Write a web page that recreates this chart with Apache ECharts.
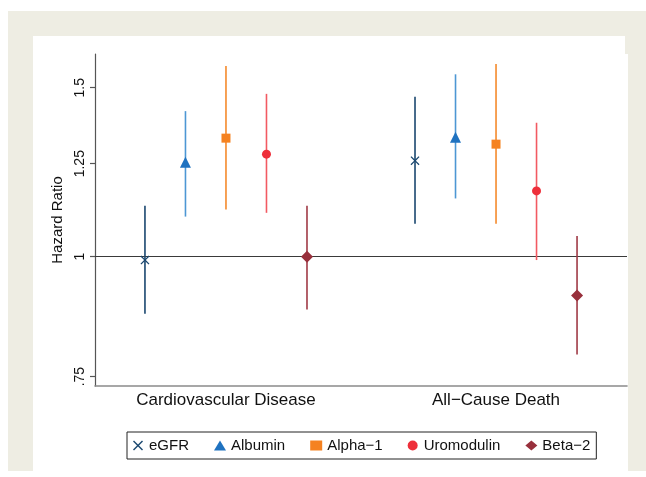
<!DOCTYPE html>
<html>
<head>
<meta charset="utf-8">
<style>html,body{margin:0;padding:0;background:#fff;}#c{width:646px;height:477px;}</style>
<script src="https://cdn.jsdelivr.net/npm/echarts@6/dist/echarts.min.js"></script>
</head>
<body>
<div id="c"></div>
<script>
// ---- data ----
var categories = ['Cardiovascular Disease', 'All\u2212Cause Death'];
var seriesNames = ['eGFR', 'Albumin', 'Alpha\u22121', 'Uromodulin', 'Beta\u22122'];
// hazard ratios per series: [CVD, All-cause death]
var hrEGFR = [0.992, 1.259];
var hrAlbumin = [1.254, 1.332];
var hrAlpha1 = [1.329, 1.310];
var hrUromodulin = [1.279, 1.171];
var hrBeta2 = [1.000, 0.911];
// lower CI
var loEGFR = [0.872, 1.082];
var loAlbumin = [1.101, 1.150];
var loAlpha1 = [1.120, 1.082];
var loUromodulin = [1.111, 0.992];
var loBeta2 = [0.881, 0.791];
// upper CI
var hiEGFR = [1.130, 1.468];
var hiAlbumin = [1.418, 1.549];
var hiAlpha1 = [1.580, 1.588];
var hiUromodulin = [1.478, 1.379];
var hiBeta2 = [1.130, 1.051];
// y tick labels
var yTickValues = [0.75, 1, 1.25, 1.5];
var yTickLabels = ['.75', '1', '1.25', '1.5'];

// ---- styling ----
var FONT = 'Liberation Sans, Arial, Helvetica, sans-serif';
var xPath = 'path://M0,1L1,0L5,4L9,0L10,1L6,5L10,9L9,10L5,6L1,10L0,9L4,5Z';
var styles = [
  {marker: xPath, size: 9, color: '#1a476f', line: '#1a476f'},
  {marker: 'triangle', size: 11, color: '#1f72c0', line: '#4d97d4'},
  {marker: 'rect', size: 9, color: '#f58220', line: '#f58a2c'},
  {marker: 'circle', size: 9, color: '#ee2f3a', line: '#f25a62'},
  {marker: 'diamond', size: 12, color: '#98303c', line: '#a03a46'}
];
var hrs = [hrEGFR, hrAlbumin, hrAlpha1, hrUromodulin, hrBeta2];
var los = [loEGFR, loAlbumin, loAlpha1, loUromodulin, loBeta2];
var his = [hiEGFR, hiAlbumin, hiAlpha1, hiUromodulin, hiBeta2];
var offsetStep = 0.15;

var series = [];
seriesNames.forEach(function (name, i) {
  var st = styles[i];
  var barData = [], ptData = [];
  categories.forEach(function (c, g) {
    var x = (g + 1) + (i - 2) * offsetStep;
    barData.push([x, Math.log(los[i][g]), Math.log(his[i][g])]);
    ptData.push([x, Math.log(hrs[i][g])]);
  });
  var bar = {
    name: name, type: 'custom', z: 2,
    encode: {x: 0, y: [1, 2]},
    data: barData,
    renderItem: (function (col) {
      return function (params, api) {
        var p1 = api.coord([api.value(0), api.value(1)]);
        var p2 = api.coord([api.value(0), api.value(2)]);
        return {type: 'line', shape: {x1: p1[0], y1: p1[1], x2: p2[0], y2: p2[1]},
          style: {stroke: col, lineWidth: 1.6}};
      };
    })(st.line),
    silent: true
  };
  if (i === 0) {
    bar.markLine = {
      silent: true, symbol: 'none', z: 1,
      label: {show: false},
      lineStyle: {color: '#3a3a3a', width: 1, type: 'solid'},
      data: [{yAxis: 0}]
    };
  }
  series.push(bar);
  series.push({
    name: name, type: 'scatter', z: 5,
    symbol: st.marker, symbolSize: st.size,
    itemStyle: {color: st.color, opacity: 1},
    data: ptData
  });
});

var chart = echarts.init(document.getElementById('c'), null, {renderer: 'canvas'});
chart.setOption({
  animation: false,
  backgroundColor: '#ffffff',
  graphic: [
    {type: 'rect', z: -10, silent: true, shape: {x: 8, y: 11, width: 638, height: 460}, style: {fill: '#eeede3'}},
    {type: 'rect', z: -9, silent: true, shape: {x: 33, y: 36, width: 592, height: 435}, style: {fill: '#ffffff'}},
    {type: 'rect', z: -9, silent: true, shape: {x: 625, y: 54, width: 3, height: 417}, style: {fill: '#ffffff'}}
  ],
  grid: {left: 95, right: 19, top: 54, bottom: 91},
  xAxis: {
    type: 'value', min: 0.515, max: 2.485,
    axisLine: {show: true, onZero: false, lineStyle: {color: '#8a8a8a', width: 1.6}},
    axisTick: {show: false},
    splitLine: {show: false},
    axisLabel: {
      customValues: [1, 2], margin: 6,
      fontFamily: FONT, fontSize: 17, color: '#111',
      formatter: function (v) { return categories[Math.round(v) - 1]; }
    }
  },
  yAxis: {
    type: 'value', min: -0.3102, max: 0.4863,
    name: 'Hazard Ratio', nameLocation: 'middle', nameGap: 24,
    nameTextStyle: {fontFamily: FONT, fontSize: 15, color: '#111'},
    axisLine: {show: true, onZero: false, lineStyle: {color: '#555', width: 1.2}},
    axisTick: {show: true, length: 5, customValues: yTickValues.map(Math.log), lineStyle: {color: '#555', width: 1.2}},
    splitLine: {show: false},
    axisLabel: {
      customValues: yTickValues.map(Math.log), rotate: 90, margin: 8,
      fontFamily: FONT, fontSize: 14, color: '#111',
      formatter: function (v) {
        var best = 0, d = 1e9;
        yTickValues.forEach(function (t, k) { var dd = Math.abs(Math.log(t) - v); if (dd < d) { d = dd; best = k; } });
        return yTickLabels[best];
      }
    }
  },
  legend: {
    left: 127, top: 432,
    orient: 'horizontal',
    borderColor: '#222', borderWidth: 1, borderRadius: 0,
    padding: [6, 6, 6, 6],
    itemGap: 25, itemWidth: 12, itemHeight: 10,
    textStyle: {fontFamily: FONT, fontSize: 15, color: '#111'},
    data: seriesNames.map(function (n, i) {
      return {name: n, icon: styles[i].marker, itemStyle: {color: styles[i].color}};
    })
  },
  series: series
});
</script>
</body>
</html>
